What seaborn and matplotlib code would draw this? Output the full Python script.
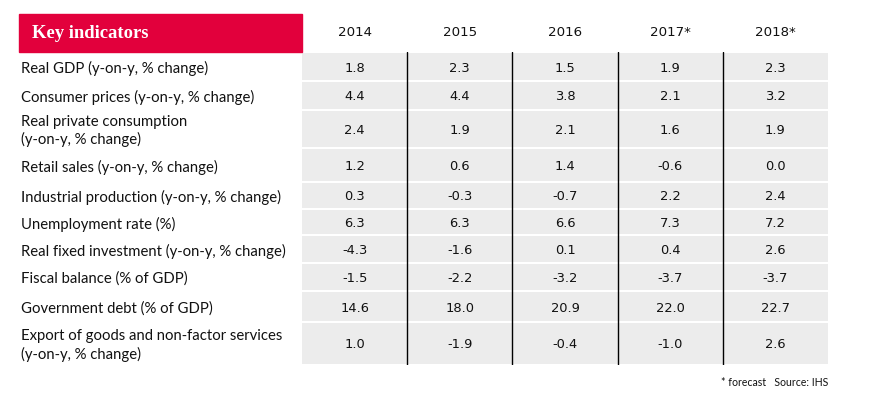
import pandas as pd
import seaborn as sns
import matplotlib.pyplot as plt
import matplotlib.transforms as mtransforms
from matplotlib.patches import Rectangle

years = ['2014', '2015', '2016', '2017*', '2018*']
indicators = [
    'Real GDP (y-on-y, % change)',
    'Consumer prices (y-on-y, % change)',
    'Real private consumption\n(y-on-y, % change)',
    'Retail sales (y-on-y, % change)',
    'Industrial production (y-on-y, % change)',
    'Unemployment rate (%)',
    'Real fixed investment (y-on-y, % change)',
    'Fiscal balance (% of GDP)',
    'Government debt (% of GDP)',
    'Export of goods and non-factor services\n(y-on-y, % change)',
]
v2014 = [1.8, 4.4, 2.4, 1.2, 0.3, 6.3, -4.3, -1.5, 14.6, 1.0]
v2015 = [2.3, 4.4, 1.9, 0.6, -0.3, 6.3, -1.6, -2.2, 18.0, -1.9]
v2016 = [1.5, 3.8, 2.1, 1.4, -0.7, 6.6, 0.1, -3.2, 20.9, -0.4]
v2017 = [1.9, 2.1, 1.6, -0.6, 2.2, 7.3, 0.4, -3.7, 22.0, -1.0]
v2018 = [2.3, 3.2, 1.9, 0.0, 2.4, 7.2, 2.6, -3.7, 22.7, 2.6]

df = pd.DataFrame({'2014': v2014, '2015': v2015, '2016': v2016,
                   '2017*': v2017, '2018*': v2018}, index=indicators)

# row heights in pixels (layout only)
row_heights = [29, 29, 38, 34, 27, 26, 28, 28, 31, 43]

sns.set_theme(style='white')
plt.rcParams['font.family'] = ['DejaVu Sans']

W, H = 873, 417
fig = plt.figure(figsize=(W / 100, H / 100), dpi=100)
x0, x1, y0, y1 = 302, 828, 52, 365
ax = fig.add_axes([x0 / W, 1 - y1 / H, (x1 - x0) / W, (y1 - y0) / H])
ax.set_xlim(0, len(years))
ax.set_ylim(sum(row_heights), 0)
ax.axis('off')

tops = [sum(row_heights[:i]) for i in range(len(row_heights))]
centers = [t + h / 2 for t, h in zip(tops, row_heights)]

# gray cells
ax.barh(centers, width=len(years), left=0, height=[h - 2 for h in row_heights],
        color='#ececec', edgecolor='none')
for i in range(1, len(years)):
    ax.axvline(i, color='black', lw=1.0)

for j, yr in enumerate(years):
    for i, val in enumerate(df[yr]):
        ax.text(j + 0.5, centers[i] + 1.5, f'{val:.1f}', ha='center', va='center',
                fontsize=9.4, color='#111111')
    ax.text(j + 0.5, -19, yr, ha='center', va='center', fontsize=9.6, color='#111111')

blend = mtransforms.blended_transform_factory(fig.transFigure, ax.transData)
for i, lab in enumerate(indicators):
    ax.text(21 / W, centers[i] + 2, lab, transform=blend, ha='left', va='center',
            fontsize=10.7, family='Lato', linespacing=1.3, color='#111111')

# header box
fig.patches.append(Rectangle((19 / W, 1 - 52 / H), (302 - 19) / W, 38 / H,
                             transform=fig.transFigure, color='#e2003c', zorder=0))
fig.text(32 / W, 1 - 33 / H, 'Key indicators', ha='left', va='center', color='white',
         fontsize=13.4, fontweight='bold', family='Liberation Serif')

fig.text(828 / W, 1 - 382 / H, '* forecast   Source: IHS', ha='right', va='center',
         fontsize=7.6, family='Lato', color='#111111')

fig.savefig('out.png', dpi=100)
